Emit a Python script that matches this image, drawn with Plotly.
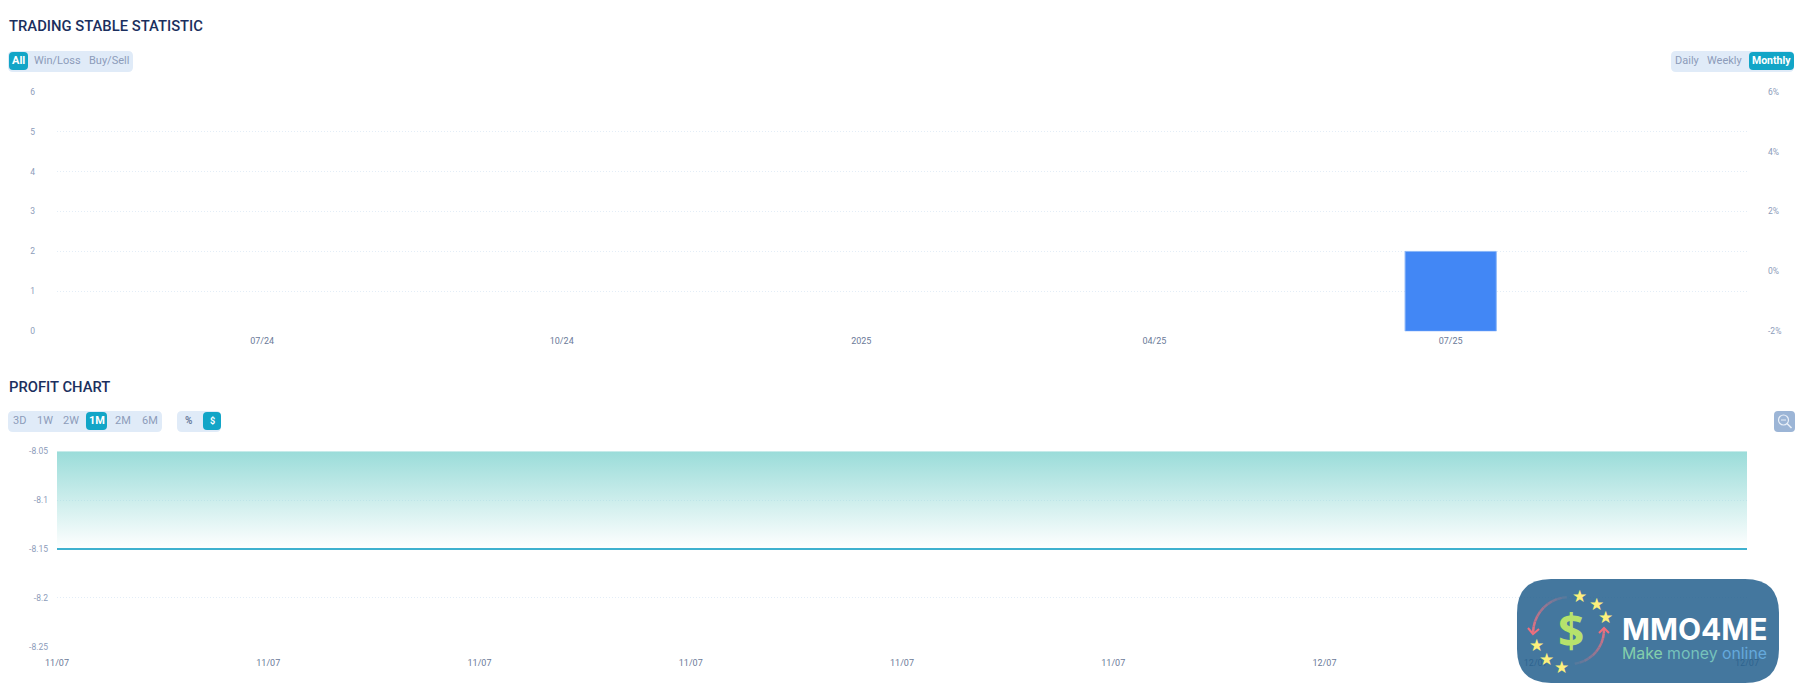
import math
import plotly.graph_objects as go

W, H = 1810, 695

# ---------- data ----------
stat_dates = ["2025-07-01"]
stat_values = [2]
stat_pct_dates = ["2025-07-01"]
stat_pct_values = [0]
stat_tick_dates = ["2024-07-01", "2024-10-01", "2025-01-01", "2025-04-01", "2025-07-01"]
stat_tick_text = ["07/24", "10/24", "2025", "04/25", "07/25"]
stat_y_ticks = [0, 1, 2, 3, 4, 5, 6]
stat_pct_ticks = [-2, 0, 2, 4, 6]
stat_pct_text = ["-2%", "0%", "2%", "4%", "6%"]

profit_dates = ["2025-07-11 06:00", "2025-07-11 09:00", "2025-07-11 12:00", "2025-07-11 15:00",
                "2025-07-11 18:00", "2025-07-11 21:00", "2025-07-12 00:00", "2025-07-12 03:00",
                "2025-07-12 06:00"]
profit_values = [-8.15, -8.15, -8.15, -8.15, -8.15, -8.15, -8.15, -8.15, -8.15]
profit_ceiling = [-8.05, -8.05, -8.05, -8.05, -8.05, -8.05, -8.05, -8.05, -8.05]
profit_y_ticks = [-8.25, -8.2, -8.15, -8.1, -8.05]
profit_y_text = ["-8.25", "-8.2", "-8.15", "-8.1", "-8.05"]

FONT = "Roboto"
NAVY = "#1b2f5e"
MUTED = "#8d9cba"
TICK = "#6b7a99"
GRID = "#e3edf7"
PANEL = "#e0ebf8"
ACTIVE = "#12a5c7"


def px(x):
    return x / W


def py(y):
    return 1 - y / H


def rr(x0, y0, x1, y1, r):
    """rounded rectangle path in paper coordinates, from pixel corners"""
    pts = [("M", x0 + r, y0), ("L", x1 - r, y0), ("Q", x1, y0, x1, y0 + r), ("L", x1, y1 - r),
           ("Q", x1, y1, x1 - r, y1), ("L", x0 + r, y1), ("Q", x0, y1, x0, y1 - r),
           ("L", x0, y0 + r), ("Q", x0, y0, x0 + r, y0)]
    out = ""
    for p in pts:
        c = p[1:]
        out += p[0] + " ".join(f"{px(c[i]):.5f},{py(c[i + 1]):.5f}" for i in range(0, len(c), 2)) + " "
    return out + "Z"


shapes, annos = [], []


def box(x0, y0, x1, y1, r, color, opacity=1):
    shapes.append(dict(type="path", xref="paper", yref="paper", path=rr(x0, y0, x1, y1, r),
                       fillcolor=color, line=dict(width=0), opacity=opacity, layer="above"))


def text(x, y, s, size, color, weight=400, anchor="center", family=FONT):
    annos.append(dict(xref="paper", yref="paper", x=px(x), y=py(y), text=s, showarrow=False,
                      xanchor=anchor, yanchor="middle", borderpad=0, align="left",
                      font=dict(family=family, size=size, color=color, weight=weight)))


def polyline(points, color, width=2):
    s = "M" + " L".join(f"{px(a):.5f},{py(b):.5f}" for a, b in points)
    shapes.append(dict(type="path", xref="paper", yref="paper", path=s,
                       line=dict(color=color, width=width), layer="above"))


def mix(c0, c1, t):
    a = [int(c0[i:i + 2], 16) for i in (1, 3, 5)]
    b = [int(c1[i:i + 2], 16) for i in (1, 3, 5)]
    return "#" + "".join(f"{round(u + (v - u) * t):02x}" for u, v in zip(a, b))


def arc(cx, cy, r0, r1, a0, a1, c0, c1, n=10, width=2.5):
    """decorative logo arc, drawn as short segments that fade from c0 to c1"""
    for i in range(n):
        seg = []
        for t in (i / n, (i + 1) / n):
            a = math.radians(a0 + (a1 - a0) * t)
            r = r0 + (r1 - r0) * t
            seg.append((cx + r * math.cos(a), cy + r * math.sin(a)))
        polyline(seg, mix(c0, c1, (i + 0.5) / n), width)


# ---------- headings and buttons ----------
text(7.5, 26, "TRADING STABLE STATISTIC", 14.8, NAVY, 500, "left")
text(7.5, 387, "PROFIT CHART", 14.8, NAVY, 500, "left")

box(8, 51, 133, 72, 5, PANEL)
box(9, 52, 28, 70, 4, ACTIVE)
text(18.5, 60.5, "All", 11, "#ffffff", 700)
text(57.5, 60.5, "Win/Loss", 11, MUTED)
text(109, 60.5, "Buy/Sell", 11, MUTED)

box(1671, 51, 1794, 72, 5, PANEL)
box(1749, 52, 1794, 70, 4, ACTIVE)
text(1687, 60.5, "Daily", 11, MUTED)
text(1725, 60.5, "Weekly", 11, MUTED)
text(1771.5, 60.5, "Monthly", 10.5, "#ffffff", 700)

box(8, 411, 162, 432, 5, PANEL)
box(86, 412, 107, 430, 4, ACTIVE)
for cx, lab in [(19, "3D"), (44.5, "1W"), (71, "2W"), (123, "2M"), (150, "6M")]:
    text(cx, 420.5, lab, 11, MUTED)
text(97, 420.5, "1M", 11, "#ffffff", 700)

box(177, 411, 221, 432, 5, PANEL)
box(203, 412, 221, 430, 4, ACTIVE)
text(188, 420.5, "%", 10, "#6d7f9f", 700)
text(212, 420.5, "$", 9, "#ffffff", 700)

# zoom-out icon
box(1774, 411, 1795, 432, 4, "#9cb5d6")
shapes.append(dict(type="circle", xref="paper", yref="paper", x0=px(1778.5), x1=px(1788.5),
                   y0=py(425), y1=py(415), line=dict(color="#e8eff8", width=1.2), layer="above"))
shapes.append(dict(type="line", xref="paper", yref="paper", x0=px(1787), x1=px(1791.5),
                   y0=py(423.5), y1=py(428), line=dict(color="#e8eff8", width=1.6), layer="above"))
shapes.append(dict(type="line", xref="paper", yref="paper", x0=px(1781), x1=px(1786),
                   y0=py(420), y1=py(420), line=dict(color="#e8eff8", width=1), layer="above"))

# ---------- logo ----------
box(1517, 579, 1779, 683, 34, "#235f8d", 0.85)
for cx, cy in [(1579, 596), (1596, 604), (1605, 617), (1536, 645), (1546, 659), (1561, 667)]:
    text(cx, cy, "★", 17, "#fdf07c")
annos.append(dict(xref="paper", yref="paper", x=px(1570.5), y=py(630), showarrow=False, text="<b>$</b>",
                  xanchor="center", yanchor="middle",
                  font=dict(family="Open Sans", size=46, color="#b6e26c")))
arc(1571, 631, 34, 38, 263, 178, "#4f7a9f", "#ea7080")
polyline([(1528, 628), (1533, 634), (1539, 629)], "#ef6f7d", 2)
arc(1570, 630, 34, 34, 82, -3, "#4f7a9f", "#ea7080")
polyline([(1599, 633), (1604, 628), (1609, 633)], "#ef6f7d", 2)
text(1621, 629, "MMO4ME", 30, "#ffffff", 700, "left", "Inter")
text(1621, 653, '<span style="color:#84d0ac">Make </span><span style="color:#76c2bc">money </span>'
                '<span style="color:#64a9dc">online</span>', 15.8, "#76c2bc", 400, "left", "Inter")

# ---------- traces ----------
fig = go.Figure()
fig.add_trace(go.Bar(x=stat_dates, y=stat_values, width=28 * 86400000, xaxis="x", yaxis="y",
                     marker=dict(color="#4287f5", line=dict(color="#8ab6f8", width=1)), showlegend=False))
fig.add_trace(go.Scatter(x=stat_pct_dates, y=stat_pct_values, mode="lines", xaxis="x", yaxis="y2",
                         line=dict(width=0), showlegend=False))
fig.add_trace(go.Scatter(x=profit_dates, y=profit_ceiling, mode="lines", xaxis="x3", yaxis="y3",
                         line=dict(width=0), showlegend=False))
fig.add_trace(go.Scatter(x=profit_dates, y=profit_values, mode="lines", xaxis="x3", yaxis="y3",
                         fill="tonexty",
                         fillgradient=dict(type="vertical",
                                           colorscale=[[0, "rgba(154,220,217,0)"], [1, "rgba(154,220,217,1)"]]),
                         line=dict(color="#3fb1cf", width=2), showlegend=False))

axis_font = dict(family=FONT, size=9, color=TICK)
y_font = dict(family=FONT, size=8.5, color=MUTED)
x_dom = [px(57), px(1747)]
DOT = "1px,2px"

fig.update_layout(
    width=W, height=H, margin=dict(l=0, r=0, t=0, b=0, autoexpand=False), autosize=False,
    paper_bgcolor="#ffffff", plot_bgcolor="rgba(0,0,0,0)", showlegend=False,
    shapes=shapes, annotations=annos,
    xaxis=dict(domain=x_dom, type="date", range=["2024-04-29", "2025-09-30"], anchor="y",
               tickmode="array", tickvals=stat_tick_dates, ticktext=stat_tick_text,
               showgrid=False, zeroline=False, showline=False, ticks="", tickfont=axis_font,
               ticklabelstandoff=3),
    yaxis=dict(domain=[py(331.3), py(91.7)], range=[0, 6], tickmode="array", tickvals=stat_y_ticks,
               gridcolor=GRID, griddash=DOT, gridwidth=1, zeroline=False, tickfont=y_font,
               ticklabelstandoff=21, showline=False, ticks=""),
    yaxis2=dict(domain=[py(331.3), py(91.7)], range=[-2, 6], overlaying="y", side="right", anchor="x",
                tickmode="array", tickvals=stat_pct_ticks, ticktext=stat_pct_text, showgrid=False,
                zeroline=False, tickfont=y_font, ticklabelstandoff=20, showline=False, ticks=""),
    xaxis3=dict(domain=x_dom, type="date", range=[profit_dates[0], profit_dates[-1]], anchor="y3",
                tickmode="array", tickvals=profit_dates, tickformat="%d/%m",
                showgrid=False, zeroline=False, showline=False, ticks="", tickfont=axis_font,
                ticklabelstandoff=9),
    yaxis3=dict(domain=[py(646.7), py(451.3)], range=[-8.25, -8.05], tickmode="array",
                tickvals=profit_y_ticks, ticktext=profit_y_text, anchor="x3",
                gridcolor=GRID, griddash=DOT, gridwidth=1, zeroline=False, tickfont=y_font,
                ticklabelstandoff=8, showline=False, ticks=""),
)

fig.write_html("out.html", config=dict(displayModeBar=False),
               post_script="document.body.style.margin='0';")
